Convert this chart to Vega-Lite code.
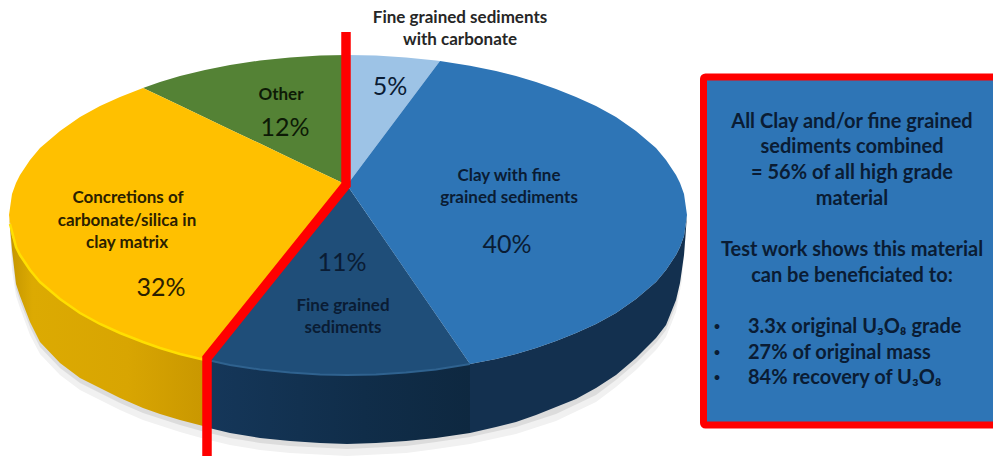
{"$schema":"https://vega.github.io/schema/vega-lite/v6.json","width":993,"height":457,"padding":0,"autosize":{"type":"none"},"background":"white","config":{"view":{"stroke":null}},
"datasets":{
"shadow":[{"x":10,"y":232,"a":232,"b":232},{"x":12,"y":225,"a":270,"b":255},{"x":16,"y":225,"a":296,"b":289},{"x":20,"y":225,"a":308,"b":301},{"x":30,"y":225,"a":335,"b":327},{"x":40,"y":225,"a":354,"b":347},{"x":60,"y":225,"a":375,"b":368},{"x":80,"y":225,"a":390,"b":383},{"x":100,"y":225,"a":400,"b":393},{"x":120,"y":225,"a":410,"b":403},{"x":143,"y":225,"a":420,"b":413},{"x":180,"y":225,"a":432,"b":425},{"x":205,"y":225,"a":439,"b":432},{"x":230,"y":225,"a":445,"b":438},{"x":260,"y":225,"a":450,"b":443},{"x":290,"y":225,"a":453,"b":446},{"x":347,"y":225,"a":456,"b":449},{"x":406,"y":225,"a":453,"b":446},{"x":436,"y":225,"a":449,"b":442},{"x":470,"y":225,"a":444,"b":437},{"x":516,"y":225,"a":434,"b":427},{"x":556,"y":225,"a":421,"b":414},{"x":596,"y":225,"a":402,"b":395},{"x":616,"y":225,"a":387,"b":380},{"x":636,"y":225,"a":370,"b":363},{"x":656,"y":225,"a":350,"b":343},{"x":666,"y":225,"a":337,"b":330},{"x":676,"y":225,"a":312,"b":305},{"x":682,"y":225,"a":280,"b":270},{"x":686,"y":232,"a":232,"b":232}],
"wallYellow":[{"x":9,"y":215,"y2":215},{"x":12,"y":236,"y2":250},{"x":16,"y":247,"y2":284},{"x":20,"y":255,"y2":296},{"x":30,"y":270,"y2":322},{"x":40,"y":282,"y2":342},{"x":60,"y":299,"y2":363},{"x":80,"y":313,"y2":378},{"x":100,"y":324,"y2":388},{"x":120,"y":333,"y2":398},{"x":143,"y":342,"y2":408},{"x":160,"y":348,"y2":414},{"x":180,"y":354,"y2":420},{"x":207,"y":360,"y2":427}],
"wallFront":[{"x":205,"y":360,"y2":427},{"x":230,"y":365,"y2":433},{"x":260,"y":369.5,"y2":438},{"x":290,"y":372.6,"y2":441},{"x":320,"y":374.5,"y2":443},{"x":347,"y":375,"y2":444},{"x":376,"y":374.5,"y2":443},{"x":406,"y":372.6,"y2":441},{"x":436,"y":369.5,"y2":438},{"x":470,"y":364,"y2":433}],
"wallRight":[{"x":470,"y":364,"y2":433},{"x":496,"y":359,"y2":427},{"x":516,"y":354,"y2":422},{"x":536,"y":348,"y2":415},{"x":556,"y":341,"y2":407},{"x":576,"y":333,"y2":399},{"x":596,"y":324,"y2":388},{"x":616,"y":313,"y2":375},{"x":636,"y":299,"y2":358},{"x":656,"y":282,"y2":338},{"x":666,"y":270,"y2":325},{"x":676,"y":255,"y2":300},{"x":680,"y":247,"y2":283},{"x":684,"y":236,"y2":255},{"x":687,"y":215,"y2":215}],
"slices":[
{"slice":"Other","x":143,"y":88,"y2":88},{"slice":"Other","x":160,"y":82,"y2":96},{"slice":"Other","x":180,"y":76,"y2":105.6},{"slice":"Other","x":205,"y":70,"y2":117.5},{"slice":"Other","x":230,"y":65,"y2":129.4},{"slice":"Other","x":260,"y":60.5,"y2":143.6},{"slice":"Other","x":290,"y":57.4,"y2":157.9},{"slice":"Other","x":320,"y":55.5,"y2":172.2},{"slice":"Other","x":347,"y":55,"y2":185},
{"slice":"Concretions","x":9,"y":215,"y2":215},{"slice":"Concretions","x":12,"y":194,"y2":236},{"slice":"Concretions","x":16,"y":183,"y2":247},{"slice":"Concretions","x":20,"y":175,"y2":255},{"slice":"Concretions","x":30,"y":160,"y2":270},{"slice":"Concretions","x":40,"y":148,"y2":282},{"slice":"Concretions","x":60,"y":131,"y2":299},{"slice":"Concretions","x":80,"y":117,"y2":313},{"slice":"Concretions","x":100,"y":106,"y2":324},{"slice":"Concretions","x":120,"y":97,"y2":333},{"slice":"Concretions","x":143,"y":88,"y2":342},{"slice":"Concretions","x":160,"y":96,"y2":348},{"slice":"Concretions","x":180,"y":105.6,"y2":354},{"slice":"Concretions","x":205,"y":117.5,"y2":360},{"slice":"Concretions","x":230,"y":129.4,"y2":329.2},{"slice":"Concretions","x":260,"y":143.6,"y2":292.2},{"slice":"Concretions","x":290,"y":157.9,"y2":255.2},{"slice":"Concretions","x":320,"y":172.2,"y2":218.3},{"slice":"Concretions","x":347,"y":185,"y2":185},
{"slice":"Carbonate","x":347,"y":55,"y2":185},{"slice":"Carbonate","x":376,"y":55.5,"y2":146.3},{"slice":"Carbonate","x":406,"y":57.4,"y2":106.3},{"slice":"Carbonate","x":436,"y":60.5,"y2":66.3},{"slice":"Carbonate","x":440,"y":61,"y2":61},
{"slice":"Fine","x":205,"y":360,"y2":360},{"slice":"Fine","x":230,"y":329.2,"y2":365},{"slice":"Fine","x":260,"y":292.2,"y2":369.5},{"slice":"Fine","x":290,"y":255.2,"y2":372.6},{"slice":"Fine","x":320,"y":218.3,"y2":374.5},{"slice":"Fine","x":347,"y":185,"y2":375},{"slice":"Fine","x":376,"y":227.2,"y2":374.5},{"slice":"Fine","x":406,"y":270.9,"y2":372.6},{"slice":"Fine","x":436,"y":314.5,"y2":369.5},{"slice":"Fine","x":470,"y":364,"y2":364},
{"slice":"Clay","x":347,"y":185,"y2":185},{"slice":"Clay","x":376,"y":146.3,"y2":227.2},{"slice":"Clay","x":406,"y":106.3,"y2":270.9},{"slice":"Clay","x":436,"y":66.3,"y2":314.5},{"slice":"Clay","x":440,"y":61,"y2":320.3},{"slice":"Clay","x":470,"y":65.7,"y2":364},{"slice":"Clay","x":496,"y":71,"y2":359},{"slice":"Clay","x":516,"y":76,"y2":354},{"slice":"Clay","x":536,"y":82,"y2":348},{"slice":"Clay","x":556,"y":89,"y2":341},{"slice":"Clay","x":576,"y":97,"y2":333},{"slice":"Clay","x":596,"y":106,"y2":324},{"slice":"Clay","x":616,"y":117,"y2":313},{"slice":"Clay","x":636,"y":131,"y2":299},{"slice":"Clay","x":656,"y":148,"y2":282},{"slice":"Clay","x":666,"y":160,"y2":270},{"slice":"Clay","x":676,"y":175,"y2":255},{"slice":"Clay","x":680,"y":183,"y2":247},{"slice":"Clay","x":684,"y":194,"y2":236},{"slice":"Clay","x":687,"y":215,"y2":215}],
"rimYellow":[{"x":10,"y":224},{"x":16,"y":247},{"x":20,"y":255},{"x":30,"y":270},{"x":40,"y":282},{"x":60,"y":299},{"x":80,"y":313},{"x":100,"y":324},{"x":120,"y":333},{"x":143,"y":342},{"x":160,"y":348},{"x":180,"y":354},{"x":205,"y":360}],
"rimBlue":[{"x":212,"y":361},{"x":230,"y":365},{"x":260,"y":369.5},{"x":290,"y":372.6},{"x":320,"y":374.5},{"x":347,"y":375},{"x":376,"y":374.5},{"x":406,"y":372.6},{"x":436,"y":369.5},{"x":470,"y":364}],
"red":[{"i":1,"x":346,"y":32},{"i":2,"x":346,"y":185},{"i":3,"x":207,"y":358},{"i":4,"x":207,"y":456}],
"box":[{"x":703.5,"x2":1005,"y":77,"y2":425}],
"labels":[{"t":"Fine grained sediments","x":460,"y":18,"on":"plain"},{"t":"with carbonate","x":460,"y":40,"on":"plain"},{"t":"Other","x":281,"y":95,"on":"green"},{"t":"Concretions of","x":128,"y":198,"on":"yellow"},{"t":"carbonate/silica in","x":127,"y":221,"on":"yellow"},{"t":"clay matrix","x":127,"y":243,"on":"yellow"},{"t":"Fine grained","x":343,"y":306,"on":"blue"},{"t":"sediments","x":343,"y":328,"on":"blue"},{"t":"Clay with fine","x":509,"y":176,"on":"blue"},{"t":"grained sediments","x":509,"y":198,"on":"blue"}],
"pct":[{"t":"5%","x":390,"y":87,"on":"blue"},{"t":"12%","x":285,"y":128,"on":"green"},{"t":"32%","x":161,"y":288,"on":"yellow"},{"t":"11%","x":342,"y":263,"on":"blue"},{"t":"40%","x":507,"y":245,"on":"blue"}],
"boxCentre":[{"t":"All Clay and/or fine grained","x":852,"y":122},{"t":"sediments combined","x":852,"y":147},{"t":"= 56% of all high grade","x":852,"y":173},{"t":"material","x":852,"y":199},{"t":"Test work shows this material","x":852,"y":250},{"t":"can be beneficiated  to:","x":852,"y":276}],
"bullets":[{"t":"•","x":717,"y":327},{"t":"•","x":717,"y":353},{"t":"•","x":717,"y":378}],
"boxLeft":[{"t":"3.3x original U₃O₈ grade","x":748,"y":327},{"t":"27% of original mass","x":748,"y":353},{"t":"84% recovery of U₃O₈","x":748,"y":378}]
},
"encoding":{"x":{"field":"x","type":"quantitative","axis":null,"scale":{"domain":[0,993],"nice":false,"zero":false}},"y":{"field":"y","type":"quantitative","axis":null,"scale":{"domain":[457,0],"nice":false,"zero":false}}},
"layer":[
{"data":{"name":"shadow"},"mark":{"type":"area","color":"#f1f1f1"},"encoding":{"y2":{"field":"a"}}},
{"data":{"name":"shadow"},"mark":{"type":"area","color":"#dcdcdc"},"encoding":{"y2":{"field":"b"}}},
{"data":{"name":"wallYellow"},"mark":{"type":"area","color":{"gradient":"linear","x1":0,"y1":0,"x2":1,"y2":0,"stops":[{"offset":0,"color":"#c49500"},{"offset":0.12,"color":"#dcaa02"},{"offset":0.6,"color":"#d8a502"},{"offset":1,"color":"#c99700"}]}},"encoding":{"y2":{"field":"y2"}}},
{"data":{"name":"wallFront"},"mark":{"type":"area","color":{"gradient":"linear","x1":0,"y1":0,"x2":1,"y2":0,"stops":[{"offset":0,"color":"#15375a"},{"offset":0.6,"color":"#102d49"},{"offset":1,"color":"#0e2840"}]}},"encoding":{"y2":{"field":"y2"}}},
{"data":{"name":"wallRight"},"mark":{"type":"area","color":"#13304f"},"encoding":{"y2":{"field":"y2"}}},
{"data":{"name":"slices"},"mark":{"type":"area"},"encoding":{"y2":{"field":"y2"},"color":{"field":"slice","type":"nominal","legend":null,"scale":{"domain":["Other","Concretions","Carbonate","Fine","Clay"],"range":["#548235","#ffc000","#9dc3e6","#1f4e79","#2e75b6"]}}}},
{"data":{"name":"rimYellow"},"mark":{"type":"line","color":"#ffdf00","strokeWidth":2.5},"encoding":{}},
{"data":{"name":"rimBlue"},"mark":{"type":"line","color":"#2f628f","strokeWidth":2},"encoding":{}},
{"data":{"name":"red"},"mark":{"type":"line","color":"#ff0000","strokeWidth":9.5,"strokeJoin":"miter","strokeCap":"butt"},"encoding":{"order":{"field":"i","type":"quantitative"}}},
{"data":{"name":"box"},"mark":{"type":"rect","fill":"#2e75b6","stroke":"#ff0000","strokeWidth":7,"cornerRadius":2,"clip":true},"encoding":{"x2":{"field":"x2"},"y2":{"field":"y2"}}},
{"data":{"name":"labels"},"mark":{"type":"text","font":"Lato","fontWeight":"bold","fontSize":17,"align":"center","baseline":"middle"},"encoding":{"text":{"field":"t"},"color":{"field":"on","type":"nominal","legend":null,"scale":{"domain":["plain","green","yellow","blue"],"range":["#262626","#0d1a06","#2b2000","#0a1c34"]}}}},
{"data":{"name":"pct"},"mark":{"type":"text","font":"Lato","fontSize":25,"align":"center","baseline":"middle"},"encoding":{"text":{"field":"t"},"color":{"field":"on","type":"nominal","legend":null,"scale":{"domain":["plain","green","yellow","blue"],"range":["#262626","#0d1a06","#2b2000","#0a1c34"]}}}},
{"data":{"name":"boxCentre"},"mark":{"type":"text","font":"Lato","fontWeight":"bold","fontSize":20,"align":"center","baseline":"middle","color":"#0a1c34"},"encoding":{"text":{"field":"t"}}},
{"data":{"name":"boxLeft"},"mark":{"type":"text","font":"Lato","fontWeight":"bold","fontSize":20,"align":"left","baseline":"middle","color":"#0a1c34"},"encoding":{"text":{"field":"t"}}},
{"data":{"name":"bullets"},"mark":{"type":"text","font":"Lato","fontSize":13,"align":"center","baseline":"middle","color":"#0a1c34"},"encoding":{"text":{"field":"t"}}}
],
"resolve":{"scale":{"color":"independent"}}
}
